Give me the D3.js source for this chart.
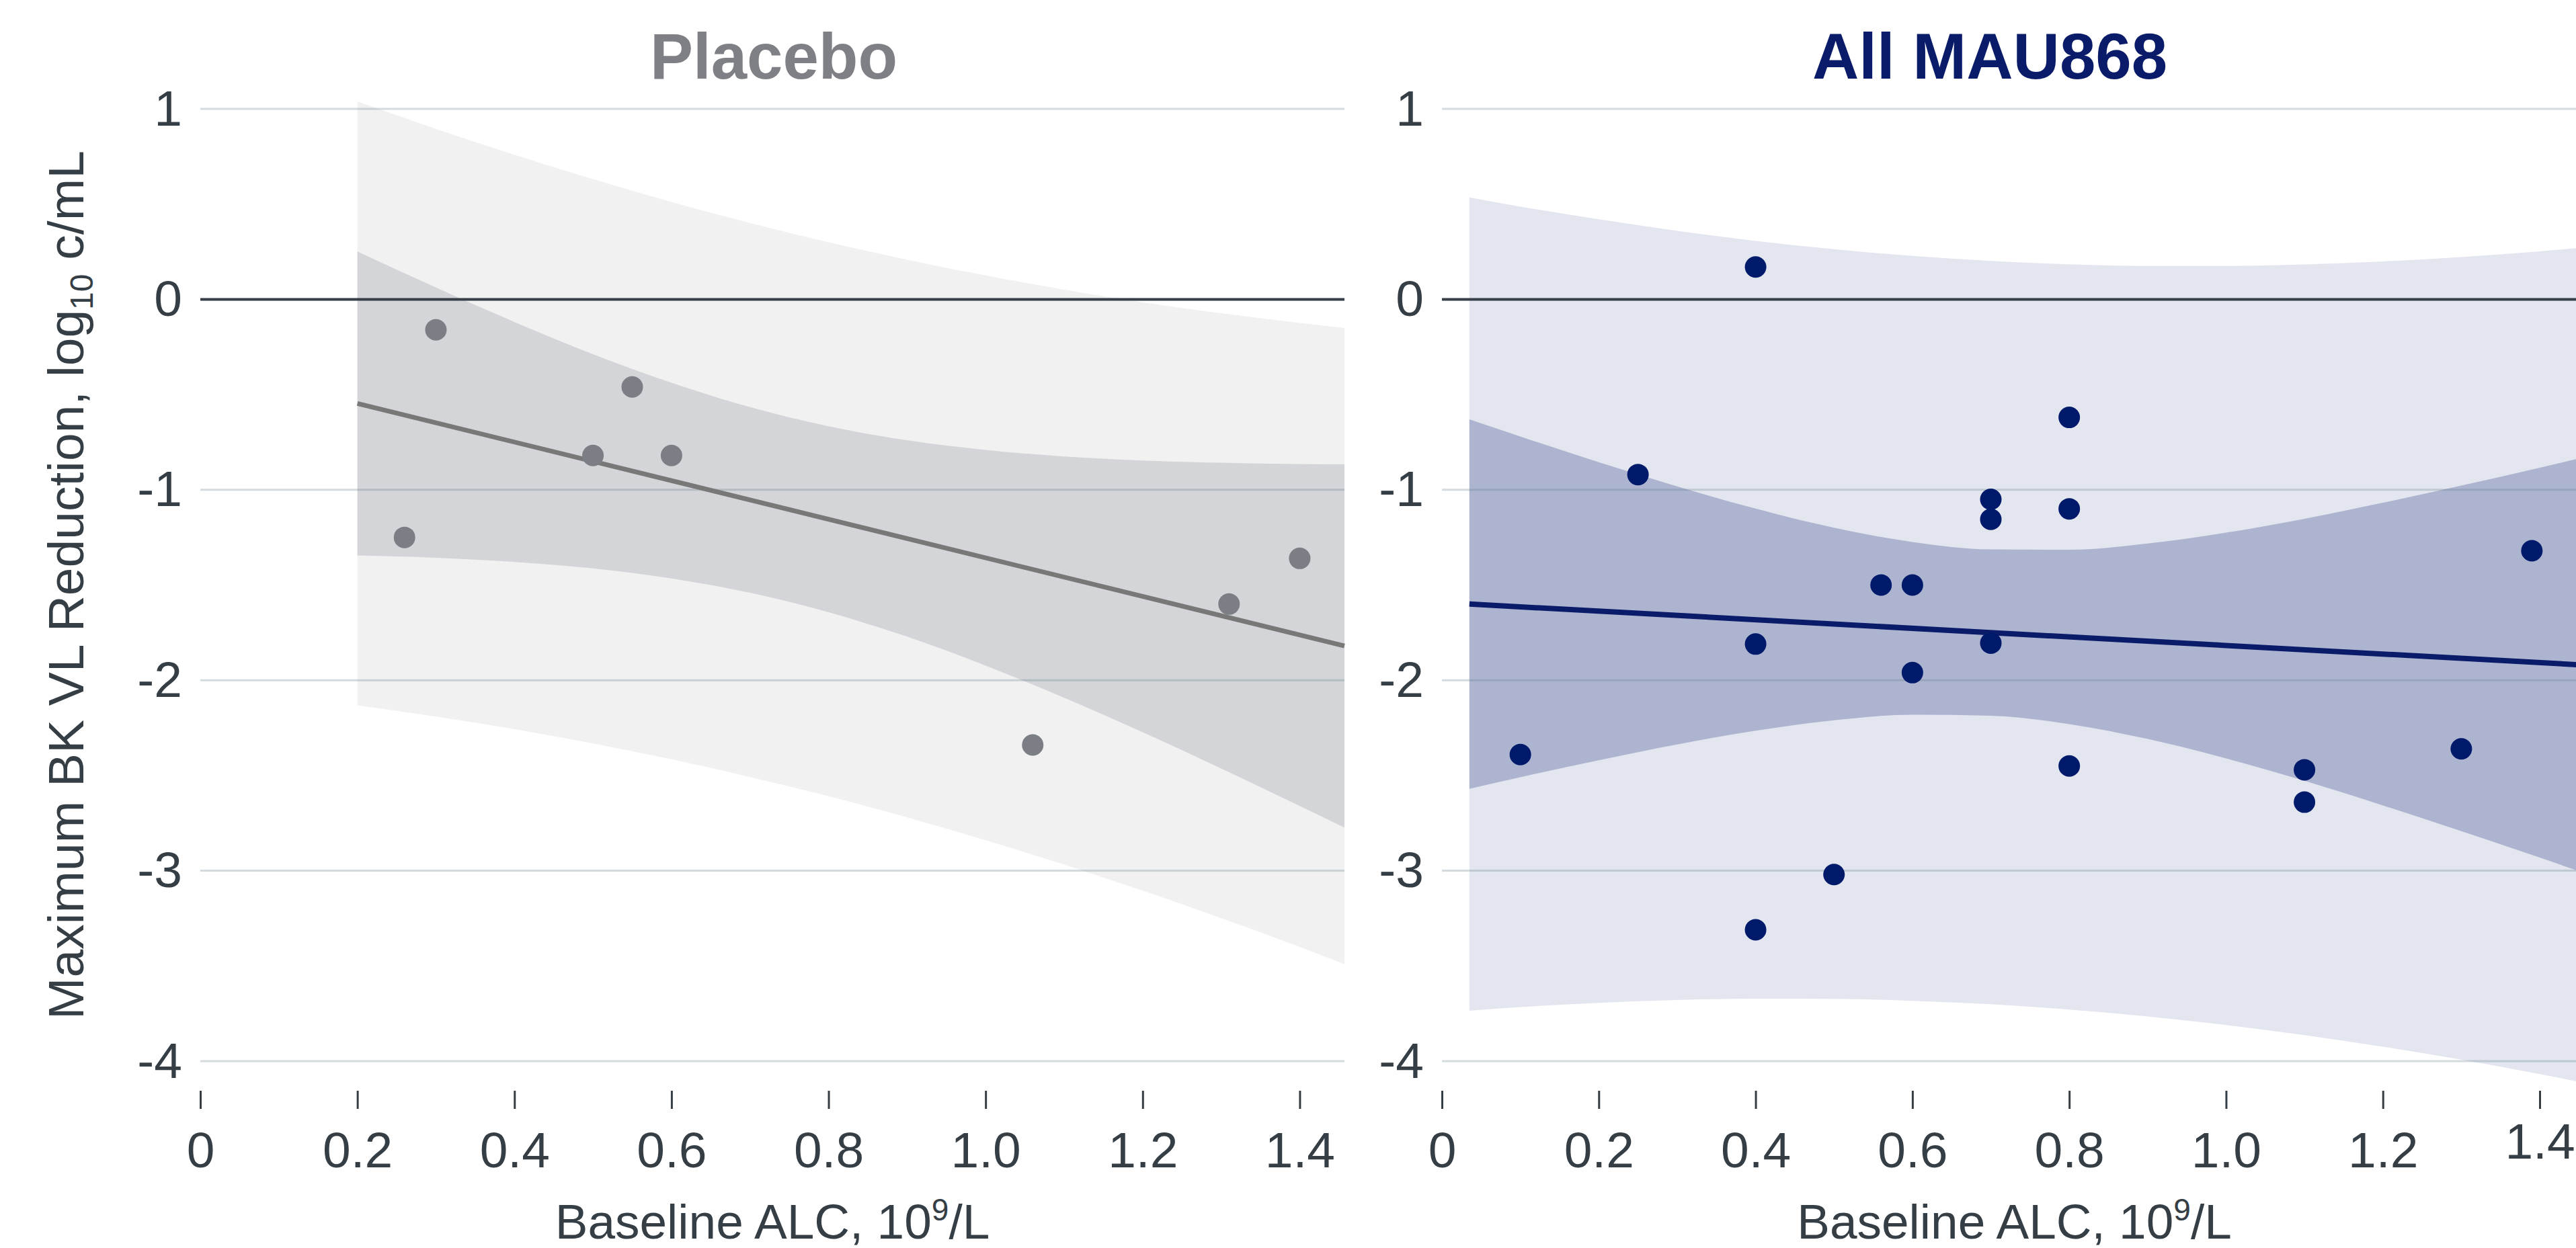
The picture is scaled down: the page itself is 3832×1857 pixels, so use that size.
<!DOCTYPE html>
<html>
<head>
<meta charset="utf-8">
<script src="https://cdn.jsdelivr.net/npm/d3@7"></script>
<style>
  html, body { margin: 0; padding: 0; background: #ffffff; }
  svg { display: block; }
</style>
</head>
<body>
<script>
// ---------------- DATA ----------------
const panelTitles = ["Placebo", "All MAU868"];
const xTickValues = [0, 0.2, 0.4, 0.6, 0.8, 1.0, 1.2, 1.4];
const xTickLabels = ["0", "0.2", "0.4", "0.6", "0.8", "1.0", "1.2", "1.4"];
const yTickValues = [1, 0, -1, -2, -3, -4];
const yTickLabels = ["1", "0", "-1", "-2", "-3", "-4"];

// Placebo scatter
const placeboX = [0.26, 0.30, 0.50, 0.55, 0.60, 1.06, 1.31, 1.40];
const placeboY = [-1.25, -0.16, -0.82, -0.46, -0.82, -2.34, -1.60, -1.36];
// Placebo fitted line (end points) and bands
const placeboFitX = [0.2, 1.457];
const placeboFitY = [-0.547, -1.820];
const placeboBandX  = [0.2, 0.3, 0.4, 0.5, 0.6, 0.7, 0.8, 0.9, 1.0, 1.1, 1.2, 1.3, 1.4, 1.457];
const placeboCiLow  = [-1.345, -1.357, -1.379, -1.413, -1.466, -1.541, -1.643, -1.771, -1.923, -2.092, -2.273, -2.463, -2.660, -2.774];
const placeboCiHigh = [0.251, 0.062, -0.119, -0.288, -0.438, -0.566, -0.666, -0.740, -0.791, -0.825, -0.846, -0.858, -0.865, -0.866];
const placeboPiLow  = [-2.132, -2.191, -2.257, -2.332, -2.415, -2.508, -2.609, -2.720, -2.840, -2.968, -3.105, -3.249, -3.400, -3.490];
const placeboPiHigh = [1.039, 0.895, 0.759, 0.631, 0.511, 0.401, 0.300, 0.208, 0.126, 0.051, -0.015, -0.073, -0.124, -0.150];

// All MAU868 scatter
const mauX = [0.10, 0.25, 0.40, 0.40, 0.40, 0.50, 0.56, 0.60, 0.60, 0.70, 0.70, 0.70, 0.80, 0.80, 0.80, 1.10, 1.10, 1.30, 1.39];
const mauY = [-2.39, -0.92, 0.17, -1.81, -3.31, -3.02, -1.50, -1.50, -1.96, -1.05, -1.155, -1.805, -0.62, -1.10, -2.45, -2.47, -2.64, -2.36, -1.32];
// All MAU868 fitted line (end points) and bands
const mauFitX = [0.035, 1.46];
const mauFitY = [-1.600, -1.921];
const mauBandX  = [0.035, 0.1, 0.2, 0.3, 0.4, 0.5, 0.6, 0.7, 0.8, 0.9, 1.0, 1.1, 1.2, 1.3, 1.4, 1.46];
const mauCiLow  = [-2.570, -2.509, -2.420, -2.337, -2.265, -2.210, -2.181, -2.186, -2.230, -2.308, -2.410, -2.528, -2.657, -2.792, -2.931, -3.017];
const mauCiHigh = [-0.630, -0.720, -0.855, -0.982, -1.099, -1.199, -1.274, -1.313, -1.315, -1.282, -1.225, -1.152, -1.068, -0.978, -0.884, -0.826];
const mauPiLow  = [-3.735, -3.716, -3.694, -3.679, -3.672, -3.673, -3.683, -3.701, -3.729, -3.765, -3.810, -3.863, -3.924, -3.992, -4.068, -4.116];
const mauPiHigh = [0.535, 0.487, 0.420, 0.360, 0.307, 0.263, 0.228, 0.202, 0.184, 0.175, 0.175, 0.183, 0.199, 0.222, 0.252, 0.274];

// ---------------- LAYOUT / STYLE ----------------
const W = 3832, H = 1857;
const FONT = "'Liberation Sans', Arial, Helvetica, sans-serif";
const TEXT = "#353e45";
const layout = {
  yTop: 162, yBottom: 1579,
  tickTop: 1623, tickLen: 27, tickLabelBaseline: 1737,
  xTitleBaseline: 1843, titleBaseline: 117,
  panels: [
    { x0: 298, x1: 2000, xMax: 1.457, titleX: 1151 },
    { x0: 2145, x1: 3848, xMax: 1.46, titleX: 2960 }
  ]
};
const styles = [
  { title: "#7e8085", outer: "#f1f1f1", inner: "#d4d5d8", line: "#787878", lineW: 7, point: "#7b7e84" },
  { title: "#0a1c69", outer: "#e3e6ef", inner: "#adb4d0", line: "#0a1c69", lineW: 8, point: "#001a6b" }
];

const panelData = [
  { x: placeboX, y: placeboY, fitX: placeboFitX, fitY: placeboFitY, bx: placeboBandX,
    ciL: placeboCiLow, ciH: placeboCiHigh, piL: placeboPiLow, piH: placeboPiHigh },
  { x: mauX, y: mauY, fitX: mauFitX, fitY: mauFitY, bx: mauBandX,
    ciL: mauCiLow, ciH: mauCiHigh, piL: mauPiLow, piH: mauPiHigh }
];

const svg = d3.select("body").append("svg")
  .attr("width", W).attr("height", H)
  .attr("viewBox", `0 0 ${W} ${H}`)
  .style("font-family", FONT);
svg.append("rect").attr("width", W).attr("height", H).attr("fill", "#ffffff");

const y = d3.scaleLinear().domain([1, -4]).range([layout.yTop, layout.yBottom]);

panelData.forEach((pd, i) => {
  const P = layout.panels[i];
  const S = styles[i];
  const x = d3.scaleLinear().domain([0, P.xMax]).range([P.x0, P.x1]);
  const g = svg.append("g");

  const bandRows = pd.bx.map((v, k) => ({ x: v, ciL: pd.ciL[k], ciH: pd.ciH[k], piL: pd.piL[k], piH: pd.piH[k] }));
  const area = (lo, hi) => d3.area()
    .x(d => x(d.x)).y0(d => y(d[lo])).y1(d => y(d[hi]))
    .curve(d3.curveMonotoneX);

  // outer (prediction) band
  g.append("path").datum(bandRows).attr("d", area("piL", "piH")).attr("fill", S.outer);
  // inner (confidence) band
  g.append("path").datum(bandRows).attr("d", area("ciL", "ciH")).attr("fill", S.inner);

  // gridlines
  g.append("g").selectAll("line")
    .data(yTickValues.filter(v => v !== 0))
    .join("line")
    .attr("x1", P.x0).attr("x2", P.x1)
    .attr("y1", d => y(d)).attr("y2", d => y(d))
    .attr("stroke", "#5f7a85").attr("stroke-opacity", 0.27).attr("stroke-width", 3);
  // zero line
  g.append("line")
    .attr("x1", P.x0).attr("x2", P.x1)
    .attr("y1", y(0)).attr("y2", y(0))
    .attr("stroke", "#363f47").attr("stroke-width", 4);

  // fitted line
  const fitRows = pd.fitX.map((v, k) => ({ x: v, y: pd.fitY[k] }));
  g.append("path").datum(fitRows)
    .attr("d", d3.line().x(d => x(d.x)).y(d => y(d.y)))
    .attr("fill", "none").attr("stroke", S.line).attr("stroke-width", S.lineW);

  // points
  g.append("g").selectAll("circle")
    .data(pd.x.map((v, k) => ({ x: v, y: pd.y[k] })))
    .join("circle")
    .attr("cx", d => x(d.x)).attr("cy", d => y(d.y))
    .attr("r", 16).attr("fill", S.point);

  // x axis
  const xAxis = d3.axisBottom(x).tickValues(xTickValues)
    .tickFormat((d, k) => xTickLabels[k]).tickSize(layout.tickLen).tickPadding(0);
  const xa = svg.append("g").attr("transform", `translate(0,${layout.tickTop})`).call(xAxis);
  xa.select(".domain").remove();
  xa.selectAll(".tick line").attr("stroke", TEXT).attr("stroke-width", 3);
  xa.selectAll(".tick text")
    .attr("y", layout.tickLabelBaseline - layout.tickTop).attr("dy", 0)
    .attr("fill", TEXT).style("font-size", "75px").style("font-family", FONT);
  if (i === 1) {
    xa.selectAll(".tick text").filter(d => d === 1.4)
      .attr("y", layout.tickLabelBaseline - layout.tickTop - 13);
  }

  // y axis labels
  const yAxis = d3.axisLeft(y).tickValues(yTickValues)
    .tickFormat((d, k) => yTickLabels[k]).tickSize(0).tickPadding(27);
  const ya = svg.append("g").attr("transform", `translate(${P.x0},0)`).call(yAxis);
  ya.select(".domain").remove();
  ya.selectAll(".tick text").attr("fill", TEXT)
    .style("font-size", "75px").style("font-family", FONT);

  // x axis title
  const xt = svg.append("text")
    .attr("x", (P.x0 + P.x1) / 2).attr("y", layout.xTitleBaseline)
    .attr("text-anchor", "middle").attr("fill", TEXT)
    .style("font-size", "73px");
  xt.append("tspan").text("Baseline ALC, 10");
  xt.append("tspan").attr("dy", -27).style("font-size", "46px").text("9");
  xt.append("tspan").attr("dy", 27).text("/L");

  // panel title
  svg.append("text")
    .attr("x", P.titleX).attr("y", layout.titleBaseline)
    .attr("text-anchor", "middle").attr("fill", S.title)
    .style("font-size", "96px").style("font-weight", "bold")
    .text(panelTitles[i]);
});

// y axis title
const yt = svg.append("text")
  .attr("transform", `translate(124,${(layout.yTop + layout.yBottom) / 2}) rotate(-90)`)
  .attr("text-anchor", "middle").attr("fill", TEXT)
  .style("font-size", "75px");
yt.append("tspan").text("Maximum BK VL Reduction, log");
yt.append("tspan").attr("dy", 14).style("font-size", "48px").text("10");
yt.append("tspan").attr("dy", -14).text(" c/mL");
</script>
</body>
</html>
